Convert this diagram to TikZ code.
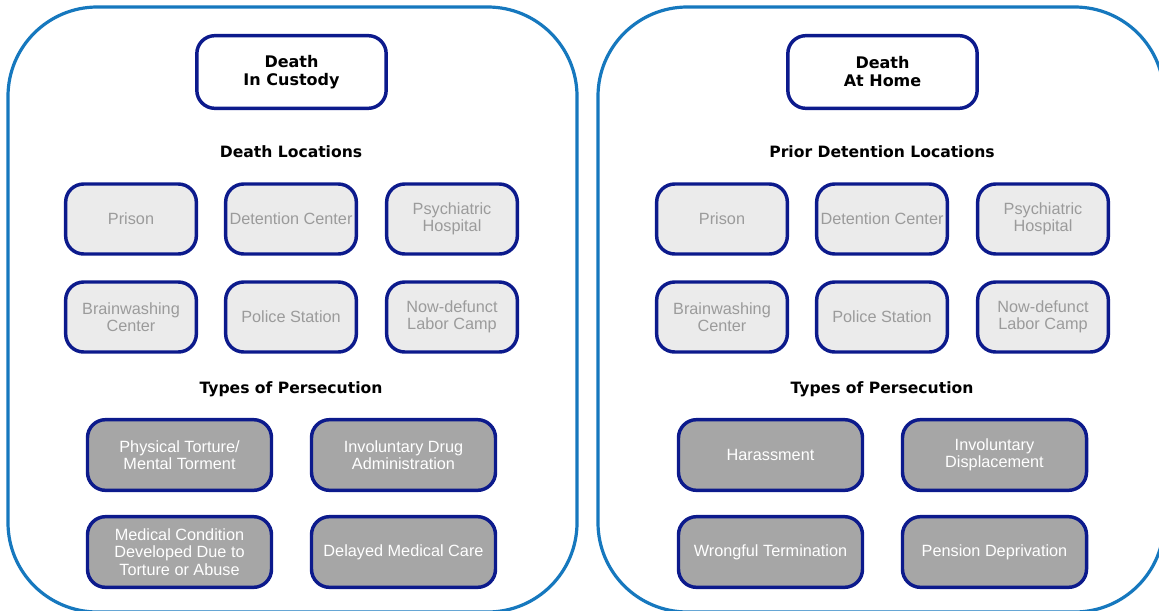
\documentclass[tikz,border=0pt]{standalone}
\usepackage{fontspec}
\setmainfont{Liberation Sans}
\newfontfamily\headFont{DejaVu Sans}
\usepackage{tikz}
\usetikzlibrary{positioning}
\definecolor{panelColor}{RGB}{22,120,190}
\definecolor{boxColor}{RGB}{12,26,140}
\definecolor{lightFill}{RGB}{235,235,235}
\definecolor{lightText}{RGB}{155,155,155}
\definecolor{darkFill}{RGB}{166,166,166}

\begin{document}
\begin{tikzpicture}[x=0.75pt,y=-0.75pt]

          \tikzstyle{panel} = [draw=panelColor, line width=2.4pt, rounded corners=67pt];
          \tikzstyle{titleNode} = [draw=boxColor, line width=2.6pt, fill=white, rounded corners=13.5pt,
            minimum width=142pt, minimum height=54.5pt, align=center,
            font=\headFont\bfseries\fontsize{12}{13.5}\selectfont];
          \tikzstyle{headNode} = [font=\headFont\bfseries\fontsize{11.7}{14}\selectfont];
          \tikzstyle{placeNode} = [draw=boxColor, line width=2.6pt, fill=lightFill, text=lightText,
            rounded corners=13.5pt, minimum width=98pt, minimum height=52.5pt, inner sep=1pt,
            align=center, font=\fontsize{12.2}{13}\selectfont];
          \tikzstyle{typeNode} = [draw=boxColor, line width=2.6pt, fill=darkFill, text=white,
            rounded corners=13.5pt, minimum width=138pt, minimum height=53pt, inner sep=1pt,
            align=center, font=\fontsize{12.2}{13}\selectfont];

          \useasboundingbox (0,0) rectangle (1159,610);
          \clip (0,0) rectangle (1159,610);

          % panels
          \draw[panel] (8,7) rectangle (577,612);
          \draw[panel] (598,7) rectangle (1164,612);

          % death in custody
          \node[titleNode] (custody) at (291.5,72) {Death\\In Custody};
          \node[headNode] (custodyLoc) at (291,152) {Death Locations};
          \node[placeNode] (cPrison) at (131,219) {Prison};
          \node[placeNode] (cDetention) at (291,219) {Detention Center};
          \node[placeNode] (cHospital) at (452,219) {Psychiatric\\Hospital};
          \node[placeNode] (cBrain) at (131,317) {Brainwashing\\Center};
          \node[placeNode] (cPolice) at (291,317) {Police Station};
          \node[placeNode] (cLabor) at (452,317) {Now-defunct\\Labor Camp};
          \node[headNode] (custodyType) at (291,389) {Types of Persecution};
          \node[typeNode] (cTorture) at (179.5,455) {Physical Torture/\\Mental Torment};
          \node[typeNode] (cDrug) at (403.5,455) {Involuntary Drug\\Administration};
          \node[typeNode] (cMedical) at (179.5,552) {Medical Condition\\Developed Due to\\Torture or Abuse};
          \node[typeNode] (cCare) at (403.5,552) {Delayed Medical Care};

          % death at home
          \node[titleNode] (home) at (882.5,72) {Death\\At Home};
          \node[headNode] (homeLoc) at (882,152) {Prior Detention Locations};
          \node[placeNode] (hPrison) at (722,219) {Prison};
          \node[placeNode] (hDetention) at (882,219) {Detention Center};
          \node[placeNode] (hHospital) at (1043,219) {Psychiatric\\Hospital};
          \node[placeNode] (hBrain) at (722,317) {Brainwashing\\Center};
          \node[placeNode] (hPolice) at (882,317) {Police Station};
          \node[placeNode] (hLabor) at (1043,317) {Now-defunct\\Labor Camp};
          \node[headNode] (homeType) at (882,389) {Types of Persecution};
          \node[typeNode] (hHarass) at (770.5,455) {Harassment};
          \node[typeNode] (hDisplace) at (994.5,455) {Involuntary\\Displacement};
          \node[typeNode] (hFired) at (770.5,552) {Wrongful Termination};
          \node[typeNode] (hPension) at (994.5,552) {Pension Deprivation};
        \end{tikzpicture}
\end{document}
